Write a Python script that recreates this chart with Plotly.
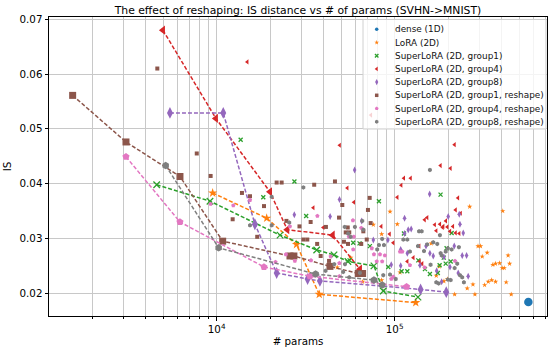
import plotly.graph_objects as go

# ---------------------------------------------------------------- data
dense_params = [564000]
dense_is = [0.0184]

lora_params = [94200, 264000, 405000, 75900, 103500, 84500, 160600, 294000, 304000, 310500,
               331000, 434000, 356000, 369000, 389000, 402000, 413000, 442500, 47600, 107200,
               171300, 189200, 197700, 255700, 275400, 320400, 335700, 350800, 369000, 423300,
               217300, 282500, 451800, 84500, 56700, 178200, 66100]
lora_is = [0.0349, 0.0358, 0.0350, 0.0325, 0.0326, 0.0308, 0.0291, 0.0286, 0.0286, 0.0267,
           0.0274, 0.0269, 0.0252, 0.0254, 0.0255, 0.0246, 0.0246, 0.0254, 0.0247, 0.0238,
           0.0232, 0.0222, 0.0226, 0.0209, 0.0216, 0.0215, 0.0221, 0.0224, 0.0221, 0.0220,
           0.0198, 0.0198, 0.0198, 0.0224, 0.0265, 0.0249, 0.0221]
lora_front_params = [9495, 19100, 28100, 37710, 131400]
lora_front_is = [0.0383, 0.0337, 0.0289, 0.0198, 0.0183]

g1_params = [13640, 18280, 27350, 31840, 81600, 181100, 63500, 72600, 195800, 209000,
             55800, 109400, 117800, 92100, 178900, 193600, 206500, 174800, 188800, 58500,
             157800, 135800, 148000, 112800]
g1_is = [0.0480, 0.0375, 0.0404, 0.0341, 0.0368, 0.0380, 0.0291, 0.0286, 0.0282, 0.0310,
         0.0260, 0.0240, 0.0240, 0.0248, 0.0251, 0.0254, 0.0258, 0.0237, 0.0265, 0.0292,
         0.0235, 0.0260, 0.0244, 0.0309]
g1_front_params = [4603, 9170, 22700, 36470, 45620, 54640, 76500, 86300, 135200]
g1_front_is = [0.0398, 0.0368, 0.0306, 0.0279, 0.0270, 0.0258, 0.0250, 0.0204, 0.0193]

g4_params = [14860, 49100, 217000, 181000, 206000, 112700, 123000, 108900, 54200, 227000,
             103500, 59000, 34900, 220000, 235000, 152400, 147400, 194000, 168000, 179600,
             187500, 84100, 212600, 197700, 171300, 230700, 204600, 220000, 93700, 39700,
             117800, 138200, 142800, 73600, 186000, 98200, 137500, 127400]
g4_is = [0.0622, 0.0470, 0.0471, 0.0433, 0.0428, 0.0410, 0.0410, 0.0397, 0.0392, 0.0374,
         0.0375, 0.0366, 0.0356, 0.0352, 0.0346, 0.0338, 0.0334, 0.0332, 0.0325, 0.0326,
         0.0322, 0.0322, 0.0322, 0.0321, 0.0314, 0.0309, 0.0313, 0.0310, 0.0308, 0.0320,
         0.0258, 0.0258, 0.0254, 0.0525, 0.0320, 0.0292, 0.0286, 0.0265]
g4_front_params = [4990, 9900, 19930, 24930, 44850, 63820]
g4_front_is = [0.0680, 0.0519, 0.0385, 0.0316, 0.0306, 0.0244]

g8_params = [59600, 157300, 49000, 27300, 43400, 113700, 200000, 230700, 123900, 119200,
             232800, 242900, 113700, 91600, 216300, 239700, 253600, 117800, 157800, 164800,
             189200, 95700, 172200, 204600, 227600, 259000, 183700, 65300, 75900, 150000,
             108100, 108100, 138700]
g8_is = [0.0425, 0.0381, 0.0371, 0.0343, 0.0340, 0.0337, 0.0340, 0.0344, 0.0317, 0.0316,
         0.0326, 0.0310, 0.0309, 0.0297, 0.0286, 0.0269, 0.0269, 0.0273, 0.0273, 0.0268,
         0.0266, 0.0252, 0.0241, 0.0248, 0.0237, 0.0231, 0.0221, 0.0332, 0.0297, 0.0286,
         0.0280, 0.0250, 0.0251]
g8_front_params = [5465, 10890, 16400, 21730, 32430, 38030, 139900, 195000]
g8_front_is = [0.0529, 0.0529, 0.0326, 0.0237, 0.0226, 0.02225, 0.0207, 0.0202]

g1r_params = [4640, 7730, 9250, 12300, 13870, 15390, 18450, 16900, 21730, 23180,
              35320, 46200, 24660, 29190, 33730, 30700, 32300, 36700, 41100, 48700,
              50800, 72400, 70800, 73300, 53100, 55600, 66700, 51900, 54700, 64900,
              38400, 42800, 54500, 69700]
g1r_is = [0.0610, 0.0455, 0.0414, 0.0335, 0.0383, 0.0377, 0.0359, 0.0303, 0.0402, 0.0402,
          0.0398, 0.0404, 0.0332, 0.0322, 0.0330, 0.0298, 0.0298, 0.0290, 0.0321, 0.0338,
          0.0361, 0.0374, 0.0352, 0.0328, 0.0311, 0.0311, 0.0313, 0.0294, 0.0290, 0.0290,
          0.0268, 0.0259, 0.0320, 0.0298]
g1r_front_params = [1552, 3094, 6220, 10810, 25820, 27160, 43300, 62450, 66070]
g1r_front_is = [0.0561, 0.0476, 0.0413, 0.0295, 0.0268, 0.0268, 0.0249, 0.0236, 0.0236]

g4r_params = [9250, 12400, 15390, 36800, 58300, 64900, 25800, 55300, 59000, 74400,
              58500, 76500, 82700, 107200, 110400, 79300, 85100, 24500, 27500, 21400,
              33900, 43700, 48900, 48900, 147500, 95700, 121900, 98200, 218300, 88100]
g4r_is = [0.0363, 0.0360, 0.0370, 0.0341, 0.0333, 0.0319, 0.0322, 0.0303, 0.0303, 0.0282,
          0.0280, 0.0271, 0.0271, 0.0276, 0.0276, 0.0258, 0.0258, 0.0271, 0.0259, 0.0257,
          0.0260, 0.0267, 0.0255, 0.0231, 0.0247, 0.0226, 0.0251, 0.0230, 0.0259, 0.0269]
g4r_front_params = [3094, 6220, 18440, 33420, 116700]
g4r_front_is = [0.0449, 0.0330, 0.0248, 0.0231, 0.0212]

g8r_params = [15390, 20380, 20380, 30700, 25580, 54800, 52600, 40900, 51400, 52400,
              59800, 65800, 157800, 137100, 141900, 179600, 81600, 87100, 85100, 152400,
              164800, 173500, 199000, 79800, 135200, 146200, 121900, 181300, 193600, 229600,
              209000, 183700, 159200, 224700, 217300, 171300, 176700, 199000, 206500, 232800,
              239700, 245000, 101400, 45800, 111900, 117800, 66700, 56600, 86300, 94200,
              55600, 63800]
g8r_is = [0.0324, 0.0324, 0.0376, 0.0393, 0.0329, 0.0309, 0.0253, 0.0241, 0.0239, 0.0321,
          0.0321, 0.0332, 0.0425, 0.0313, 0.0313, 0.0306, 0.0288, 0.0288, 0.0299, 0.0289,
          0.0293, 0.0290, 0.0282, 0.0280, 0.0286, 0.0277, 0.0276, 0.0273, 0.0276, 0.0284,
          0.0280, 0.0269, 0.0252, 0.0254, 0.0246, 0.0220, 0.0218, 0.0225, 0.0224, 0.0233,
          0.0229, 0.0220, 0.0226, 0.0253, 0.0298, 0.0298, 0.0316, 0.0303, 0.0233, 0.0234,
          0.0229, 0.0237]
g8r_front_params = [5170, 10260, 35970, 76500, 85100]
g8r_front_is = [0.0433, 0.0283, 0.0235, 0.0224, 0.0215]

series_names = ["dense (1D)", "LoRA (2D)", "SuperLoRA (2D, group1)", "SuperLoRA (2D, group4)",
                "SuperLoRA (2D, group8)", "SuperLoRA (2D, group1, reshape)",
                "SuperLoRA (2D, group4, reshape)", "SuperLoRA (2D, group8, reshape)"]

x_tick_vals = [1e4, 1e5]
x_tick_text = ["10<sup>4</sup>", "10<sup>5</sup>"]

# ---------------------------------------------------------------- styles
FONT = "DejaVu Sans"
colors = ["#1f77b4", "#ff7f0e", "#2ca02c", "#d62728", "#9467bd", "#8c564b", "#e377c2", "#7f7f7f"]
symbols = ["circle", "star", "x-thin", "triangle-left", "diamond-tall", "square", "pentagon", "hexagon"]
small_size = [4, 4, 4, 4.5, 5, 4, 4.5, 4.5]
big_size = [8.5, 7, 6.5, 8, 8.5, 7, 7.5, 7.5]
key_size = [3.5, 3.5, 3.5, 4, 4.5, 3.5, 4, 4]

series = [
    (dense_params, dense_is, dense_params, dense_is),
    (lora_params, lora_is, lora_front_params, lora_front_is),
    (g1_params, g1_is, g1_front_params, g1_front_is),
    (g4_params, g4_is, g4_front_params, g4_front_is),
    (g8_params, g8_is, g8_front_params, g8_front_is),
    (g1r_params, g1r_is, g1r_front_params, g1r_front_is),
    (g4r_params, g4r_is, g4r_front_params, g4r_front_is),
    (g8r_params, g8r_is, g8r_front_params, g8r_front_is),
]


def marker(i, size):
    m = dict(symbol=symbols[i], size=size, color=colors[i], line=dict(width=0))
    if symbols[i] == "x-thin":
        m["line"] = dict(width=1.3, color=colors[i])
    return m


fig = go.Figure()
for i, (px, py, fx, fy) in enumerate(series):
    fig.add_trace(go.Scatter(x=px, y=py, mode="markers", name=series_names[i],
                             marker=marker(i, small_size[i]), showlegend=False))
    mode = "markers" if i == 0 else "lines+markers"
    fig.add_trace(go.Scatter(x=fx, y=fy, mode=mode, showlegend=False,
                             line=dict(color=colors[i], width=1.5, dash="4px,2px"),
                             marker=marker(i, big_size[i])))

# ---------------------------------------------------------------- legend box (pixel space overlay)
L, R, T, B = 49, 547, 17, 316
box_x0, box_x1, box_y0, box_y1 = 363, 546, 19.5, 129
fig.add_trace(go.Scatter(x=[box_x0, box_x1, box_x1, box_x0, box_x0],
                         y=[box_y0, box_y0, box_y1, box_y1, box_y0],
                         xaxis="x2", yaxis="y2", mode="lines", fill="toself",
                         fillcolor="rgba(255,255,255,0.8)",
                         line=dict(color="#d0d0d0", width=1), hoverinfo="skip",
                         showlegend=False))
row0, row_h = 29.3, 13.2
key_x, text_x = 376.7, 392.7
for i, name in enumerate(series_names):
    yy = row0 + i * row_h
    fig.add_trace(go.Scatter(x=[key_x], y=[yy], xaxis="x2", yaxis="y2", mode="markers",
                             marker=marker(i, key_size[i]), hoverinfo="skip",
                             showlegend=False))
    fig.add_annotation(x=text_x, y=yy, xref="x2", yref="y2", text=name, showarrow=False,
                       xanchor="left", yanchor="middle",
                       font=dict(family=FONT, size=8.9, color="#111"))

# ---------------------------------------------------------------- axes
minor_vals = [m * 10 ** e for e in (3, 4, 5) for m in range(2, 10)]
grid_c = "#c8c8c8"
fig.update_layout(
    width=548, height=347,
    margin=dict(l=L, r=548 - R, t=T, b=347 - B, pad=0),
    paper_bgcolor="white", plot_bgcolor="white",
    font=dict(family=FONT, size=10.3, color="#000"),
    showlegend=False,
    title=dict(text="The effect of reshaping: IS distance vs # of params (SVHN->MNIST)",
               x=0.5, xref="paper", y=1 - 10.5 / 347, yref="container",
               xanchor="center", yanchor="middle",
               font=dict(family=FONT, size=10.8, color="#000")),
    xaxis=dict(type="log", range=[3.058, 5.856],
               tickmode="array", tickvals=x_tick_vals, ticktext=x_tick_text,
               showgrid=True, gridcolor=grid_c, gridwidth=1.3,
               minor=dict(tickvals=minor_vals, showgrid=True, gridcolor=grid_c, gridwidth=1.3,
                          ticks="outside", ticklen=2, tickcolor="#000"),
               ticks="outside", ticklen=3.5, tickcolor="#000",
               showline=True, linecolor="#000", linewidth=1, mirror=True,
               zeroline=False,
               title=dict(text="# params", standoff=4, font=dict(size=10.3))),
    yaxis=dict(range=[0.01585, 0.0704], dtick=0.01, tickformat=".2f",
               showgrid=True, gridcolor=grid_c, gridwidth=1.3,
               ticks="outside", ticklen=3.5, tickcolor="#000",
               showline=True, linecolor="#000", linewidth=1, mirror=True,
               zeroline=False,
               title=dict(text="IS", standoff=5, font=dict(size=10.3))),
    xaxis2=dict(overlaying="x", anchor="y2", range=[L, R], visible=False, fixedrange=True),
    yaxis2=dict(overlaying="y", anchor="x2", range=[B, T], visible=False, fixedrange=True),
)

fig.write_html("out.html")
